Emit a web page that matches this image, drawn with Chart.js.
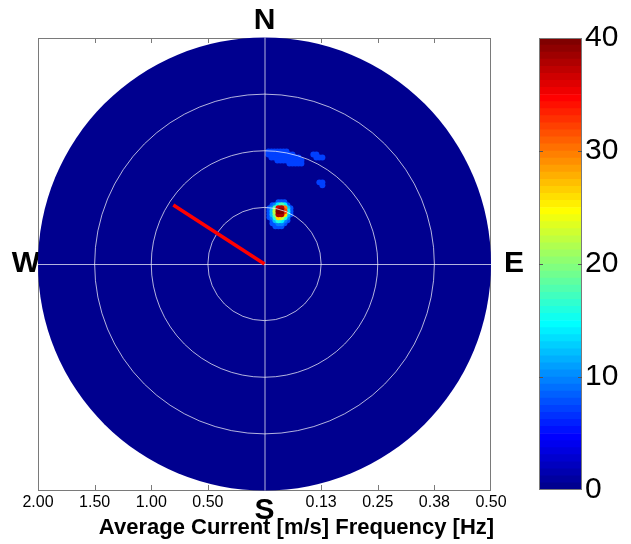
<!DOCTYPE html>
<html>
<head>
<meta charset="utf-8">
<script src="https://cdn.jsdelivr.net/npm/chart.js@4.4.0/dist/chart.umd.min.js"></script>
<style>
  body { margin: 0; background: #fff; }
  #wrap { position: relative; width: 631px; height: 544px; }
  canvas { position: absolute; top: 0; }
  #spectrum { left: 0; }
  #colorbar { left: 520px; }
</style>
</head>
<body>
<div id="wrap">
  <canvas id="spectrum" width="631" height="544"></canvas>
  <canvas id="colorbar" width="111" height="544"></canvas>
</div>
<script>
// Axes: frequency on the right half, current speed on the left half
const maxFreq = 0.5;
const freqTicks = [-0.5, -0.375, -0.25, -0.125, 0, 0.125, 0.25, 0.375, 0.5];
const tickLabels = ['2.00', '1.50', '1.00', '0.50', 'S', '0.13', '0.25', '0.38', '0.50'];
const ringFreqs = [0.125, 0.25, 0.375];
const speedPerHz = 4; // 2.00 m/s sits on the 0.5 Hz ring

// Average current
const currentSpeed = 0.96; // m/s
const currentDir = 303;    // degrees from north

// Colorbar
const colorMax = 40;
const colorTicks = [0, 10, 20, 30, 40];
const colorSteps = 64;

// Spectrum bins (east / north frequency components, Hz)
const binWidth = 0.0066;

// main peak
const peakEast = [0.0110, 0.0176, 0.0242, 0.0308, 0.0374, 0.0441, 0.0507, 0.0573];
const peakNorth = [0.1366, 0.1300, 0.1233, 0.1167, 0.1101, 0.1035, 0.0969, 0.0903, 0.0837];
const peakEnergy = [
  [0, 0, 0, 8, 8, 8, 0, 0],
  [0, 8, 10, 14, 18, 14, 8, 0],
  [8, 10, 18, 36, 38, 30, 12, 8],
  [8, 12, 22, 40, 40, 32, 14, 8],
  [8, 12, 20, 38, 38, 26, 12, 8],
  [8, 10, 16, 26, 22, 16, 10, 0],
  [0, 8, 12, 16, 14, 10, 8, 0],
  [0, 8, 8, 10, 10, 8, 0, 0],
  [0, 0, 8, 8, 8, 0, 0, 0]
];

// weak high-frequency patch
const swellEast = [0.0088, 0.0154, 0.0220, 0.0286, 0.0352, 0.0419, 0.0485, 0.0551, 0.0617, 0.0683, 0.0749, 0.0815];
const swellNorth = [0.2489, 0.2423, 0.2357, 0.2291, 0.2225];
const swellEnergy = [
  [7, 7, 7, 7, 7, 7, 7, 0, 0, 0, 0, 0],
  [7, 7, 7, 7, 7, 7, 7, 7, 7, 0, 0, 0],
  [0, 7, 7, 7, 7, 7, 7, 7, 7, 7, 7, 0],
  [0, 0, 0, 7, 7, 7, 7, 7, 7, 7, 7, 7],
  [0, 0, 0, 0, 0, 0, 0, 7, 7, 7, 7, 7]
];

// two small spots further out
const spotAEast = [0.1079, 0.1145, 0.1211, 0.1278];
const spotANorth = [0.2423, 0.2357];
const spotAEnergy = [
  [7, 7, 0, 0],
  [0, 7, 7, 7]
];
const spotBEast = [0.1211, 0.1278];
const spotBNorth = [0.1806, 0.1740];
const spotBEnergy = [
  [7, 7],
  [0, 7]
];

const fontFamily = "'Liberation Sans', Arial, sans-serif";
Chart.defaults.font.family = fontFamily;

// jet colormap, 64 steps like the matlab one
function jetStep(k) {
  const t = k / colorSteps;
  const c = (x) => Math.round(255 * Math.min(1, Math.max(0, 1.5 - Math.abs(4 * t - x))));
  return `rgb(${c(3)}, ${c(2)}, ${c(1)})`;
}
function jet(v) {
  const k = Math.min(colorSteps, Math.max(1, Math.ceil((v / colorMax) * colorSteps)));
  return jetStep(k);
}

function gridToCells(east, north, energy) {
  const cells = [];
  north.forEach((n, i) => {
    east.forEach((e, j) => {
      if (energy[i][j] > 0) cells.push({ x: e, y: n, v: energy[i][j] });
    });
  });
  return cells;
}

const cells = [
  ...gridToCells(swellEast, swellNorth, swellEnergy),
  ...gridToCells(spotAEast, spotANorth, spotAEnergy),
  ...gridToCells(spotBEast, spotBNorth, spotBEnergy),
  ...gridToCells(peakEast, peakNorth, peakEnergy)
].sort((a, b) => a.v - b.v);

const currentR = currentSpeed / speedPerHz;
const currentRad = (currentDir * Math.PI) / 180;
const currentLine = [
  { x: 0, y: 0 },
  { x: currentR * Math.sin(currentRad), y: currentR * Math.cos(currentRad) }
];

const gridColor = 'rgba(255, 255, 255, 0.7)';
const boxColor = '#7a7a7a';

const polarPlugin = {
  id: 'polar',
  beforeDatasetsDraw(chart) {
    const { ctx, chartArea: a, scales: { x, y } } = chart;
    const cx = x.getPixelForValue(0);
    const cy = y.getPixelForValue(0);
    const r = x.getPixelForValue(maxFreq) - cx;
    ctx.save();
    // box + tick marks
    ctx.strokeStyle = boxColor;
    ctx.lineWidth = 1;
    ctx.strokeRect(a.left + 0.5, a.top + 0.5, a.right - a.left - 1, a.bottom - a.top);
    ctx.beginPath();
    for (const f of freqTicks) {
      if (Math.abs(f) === maxFreq || f === 0) continue;
      const px = Math.round(x.getPixelForValue(f)) + 0.5;
      ctx.moveTo(px, a.top);
      ctx.lineTo(px, a.top + 5);
      ctx.moveTo(px, a.bottom);
      ctx.lineTo(px, a.bottom - 5);
    }
    ctx.stroke();
    // compass letters
    ctx.fillStyle = '#000';
    ctx.font = `bold 30px ${fontFamily}`;
    ctx.textAlign = 'center';
    ctx.textBaseline = 'middle';
    ctx.fillText('N', cx, a.top - 17);
    ctx.fillText('W', a.left - 12, cy);
    ctx.fillText('E', a.right + 23, cy);
    // zero energy disk
    ctx.fillStyle = jet(0);
    ctx.beginPath();
    ctx.arc(cx, cy, r, 0, Math.PI * 2);
    ctx.fill();
    ctx.restore();
  },
  afterDatasetDraw(chart, args) {
    if (args.index !== 1) return;
    const { ctx, scales: { x, y } } = chart;
    const cx = x.getPixelForValue(0);
    const cy = y.getPixelForValue(0);
    const r = x.getPixelForValue(maxFreq) - cx;
    ctx.save();
    ctx.strokeStyle = gridColor;
    ctx.lineWidth = 1;
    for (const f of ringFreqs) {
      ctx.beginPath();
      ctx.arc(cx, cy, x.getPixelForValue(f) - cx, 0, Math.PI * 2);
      ctx.stroke();
    }
    ctx.beginPath();
    ctx.moveTo(cx - r, cy + 0.5);
    ctx.lineTo(cx + r, cy + 0.5);
    ctx.moveTo(cx + 0.5, cy - r);
    ctx.lineTo(cx + 0.5, cy + r);
    ctx.stroke();
    ctx.restore();
  },
  afterDraw(chart) {
    const { ctx, scales: { x } } = chart;
    ctx.save();
    ctx.fillStyle = '#000';
    ctx.font = `bold 22px ${fontFamily}`;
    ctx.textAlign = 'center';
    ctx.textBaseline = 'alphabetic';
    ctx.fillText('Average Current [m/s] Frequency [Hz]', x.getPixelForValue(0) + 32, 534);
    ctx.restore();
  }
};

new Chart(document.getElementById('spectrum'), {
  type: 'scatter',
  data: {
    datasets: [
      {
        type: 'line',
        data: currentLine,
        borderColor: '#ff0000',
        borderWidth: 3.5,
        pointRadius: 0,
        showLine: true
      },
      {
        data: cells,
        pointStyle: 'circle',
        borderWidth: 0,
        backgroundColor: cells.map((c) => jet(c.v)),
        pointRadius: (c) => {
          const s = c.chart.scales.x;
          return Math.abs(s.getPixelForValue(binWidth) - s.getPixelForValue(0)) * 1.0;
        }
      }
    ]
  },
  options: {
    responsive: false,
    animation: false,
    events: [],
    layout: { padding: { left: 38, right: 140, top: 38, bottom: 0 } },
    plugins: { legend: { display: false }, tooltip: { enabled: false } },
    scales: {
      x: {
        type: 'linear',
        min: -maxFreq,
        max: maxFreq,
        afterBuildTicks: (s) => {
          s.ticks = freqTicks.map((value) => ({ value }));
        },
        afterFit: (s) => {
          s.height = 54;
        },
        ticks: {
          autoSkip: false,
          maxRotation: 0,
          padding: 3,
          color: '#000',
          callback: (v) => tickLabels[freqTicks.indexOf(v)],
          font: (c) =>
            c.tick && c.tick.value === 0
              ? { family: fontFamily, size: 30, weight: 'bold' }
              : { family: fontFamily, size: 16 }
        },
        grid: { display: false, drawTicks: false },
        border: { display: false }
      },
      y: { type: 'linear', min: -maxFreq, max: maxFreq, display: false }
    }
  },
  plugins: [polarPlugin]
});

// colorbar
const colorLevels = Array.from({ length: colorSteps }, (_, i) => i + 1);

const colorbarFrame = {
  id: 'colorbarFrame',
  afterDatasetsDraw(chart) {
    const { ctx, chartArea: a, scales: { y } } = chart;
    ctx.save();
    ctx.strokeStyle = boxColor;
    ctx.lineWidth = 1;
    ctx.strokeRect(a.left + 0.5, a.top + 0.5, a.right - a.left - 1, a.bottom - a.top - 1);
    ctx.strokeStyle = '#555';
    ctx.beginPath();
    for (const t of colorTicks) {
      if (t === 0 || t === colorMax) continue;
      const py = Math.round(y.getPixelForValue(t)) + 0.5;
      ctx.moveTo(a.left, py);
      ctx.lineTo(a.left + 4, py);
      ctx.moveTo(a.right, py);
      ctx.lineTo(a.right - 4, py);
    }
    ctx.stroke();
    ctx.restore();
  }
};

new Chart(document.getElementById('colorbar'), {
  type: 'bar',
  data: {
    labels: [''],
    datasets: colorLevels.map((k) => ({
      data: [colorMax / colorSteps],
      backgroundColor: jetStep(k),
      borderWidth: 0,
      barPercentage: 1,
      categoryPercentage: 1
    }))
  },
  options: {
    responsive: false,
    animation: false,
    events: [],
    layout: { padding: { left: 19, right: 0, top: 38, bottom: 54 } },
    plugins: { legend: { display: false }, tooltip: { enabled: false } },
    scales: {
      x: { stacked: true, display: false },
      y: {
        stacked: true,
        position: 'right',
        min: 0,
        max: colorMax,
        afterBuildTicks: (s) => {
          s.ticks = colorTicks.map((value) => ({ value }));
        },
        afterFit: (s) => {
          s.width = 49;
        },
        ticks: { padding: 3, color: '#000', font: { size: 30 } },
        grid: { display: false, drawTicks: false },
        border: { display: false }
      }
    }
  },
  plugins: [colorbarFrame]
});
</script>
</body>
</html>
